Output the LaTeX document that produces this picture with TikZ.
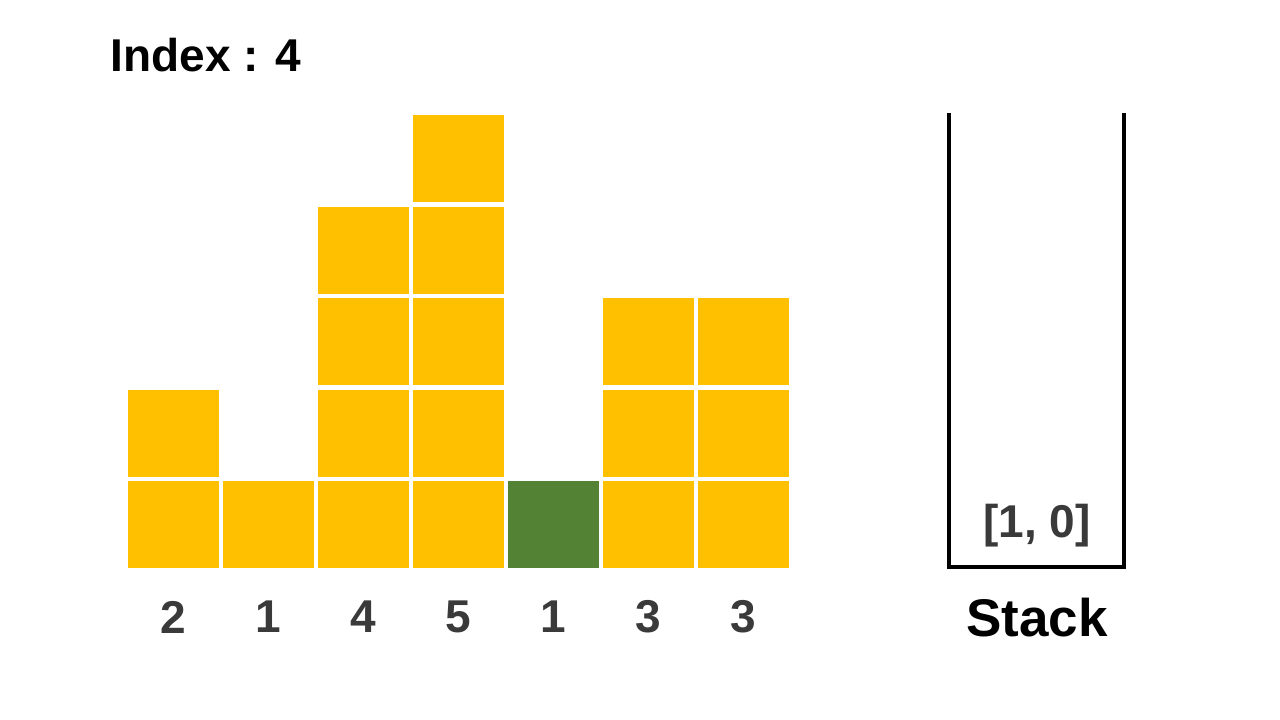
\documentclass[tikz,border=0pt]{standalone}
\usepackage{fontspec}
\setmainfont{Liberation Sans}
\definecolor{baryellow}{HTML}{FFC000}
\definecolor{bargreen}{HTML}{548235}
\definecolor{labelgray}{HTML}{3A3A3A}
\begin{document}
\begin{tikzpicture}[x=1pt,y=-1pt,
  block/.style={fill=baryellow, draw=none, minimum width=91pt, minimum height=87pt, inner sep=0pt},
  cur/.style={block, fill=bargreen},
  numlabel/.style={font=\bfseries\fontsize{46}{52}\selectfont, text=labelgray, inner sep=0pt},
  title/.style={font=\bfseries\fontsize{46}{52}\selectfont, text=black, inner sep=0pt},
  stacklabel/.style={font=\bfseries\fontsize{53}{60}\selectfont, text=black, inner sep=0pt},
  stackwall/.style={draw=black, line width=4pt}]
\useasboundingbox (0,0) rectangle (1280,720);
\fill[white] (0,0) rectangle (1280,720);
% heights
\foreach \h [count=\i from 0] in {2,1,4,5,1,3,3} {
  \pgfmathsetmacro{\cx}{128+95*\i+45.5}
  \foreach \j in {1,...,\h} {
    \pgfmathsetmacro{\cy}{568-91.5*(\j-1)-43.5}
    \ifnum\i=4
      \node[cur] (b-\i-\j) at (\cx,\cy) {};
    \else
      \node[block] (b-\i-\j) at (\cx,\cy) {};
    \fi
  }
  \node[numlabel] (l-\i) at (\cx,617) {\h};
}
\node[title] (index) at (206,55) {Index : 4};
% stack
\draw[stackwall] (948.5,113) -- (948.5,566.5) -- (1124,566.5) -- (1124,113);
\node[numlabel] (entry) at (1037,526) {[1, 0]};
\node[stacklabel] (stack) at (1037,618) {Stack};
\end{tikzpicture}
\end{document}
